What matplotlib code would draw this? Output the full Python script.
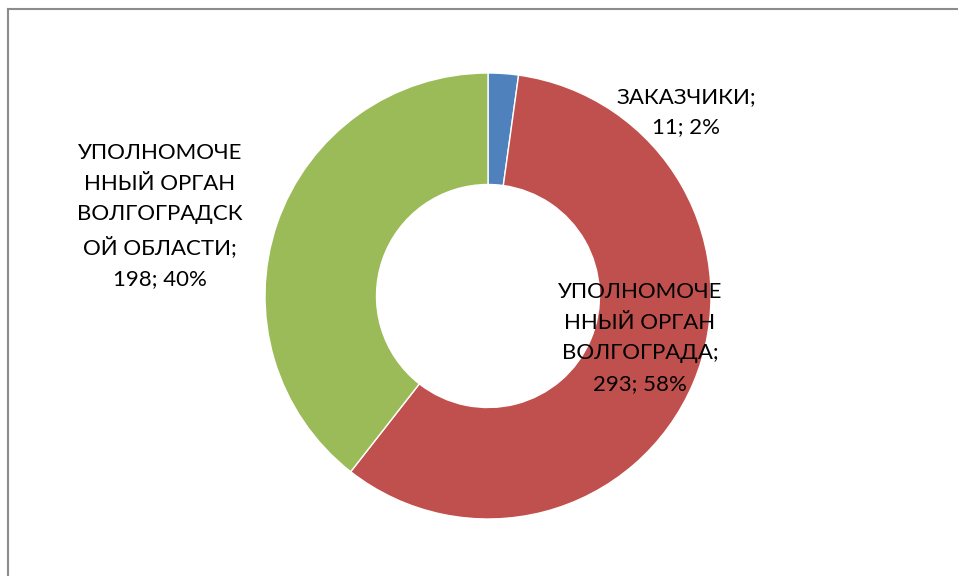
import matplotlib.pyplot as plt
from matplotlib.lines import Line2D

# data
labels = ["ЗАКАЗЧИКИ", "УПОЛНОМОЧЕ\nННЫЙ ОРГАН\nВОЛГОГРАДА", "УПОЛНОМОЧЕ\nННЫЙ ОРГАН\nВОЛГОГРАДСК\nОЙ ОБЛАСТИ"]
values = [11, 293, 198]
percents = [2, 58, 40]
colors = ["#4F81BD", "#C0504D", "#9BBB59"]

W, H = 958, 576
fig = plt.figure(figsize=(W / 100, H / 100), dpi=100)
ax = fig.add_axes([0, 0, 1, 1])
ax.set_xlim(0, W)
ax.set_ylim(0, H)
ax.set_aspect("equal")
ax.axis("off")

# outer frame (cut off on right and bottom)
frame_col = "#8c8c8c"
ax.add_line(Line2D([8.5, 8.5], [0, H - 8.5], color=frame_col, lw=1.5))
ax.add_line(Line2D([8.5, W], [H - 8.5, H - 8.5], color=frame_col, lw=1.5))

cx, cy, r = 488, H - 296, 223
ax.pie(values, colors=colors, startangle=90, counterclock=False,
       center=(cx, cy), radius=r, frame=True,
       wedgeprops=dict(width=r * 0.5, edgecolor="white", linewidth=1))
ax.set_xlim(0, W)
ax.set_ylim(0, H)
ax.axis("off")

# label positions in pixels (x, y from top)
label_pos = [(686, 112), (640, 338), (160, 216)]
for lab, v, p, (px, py) in zip(labels, values, percents, label_pos):
    ax.text(px, H - py, f"{lab};\n{v}; {p}%", ha="center", va="center",
            fontsize=16, family="Lato", linespacing=1.66, color="black")

fig.savefig("out.png", dpi=100)
